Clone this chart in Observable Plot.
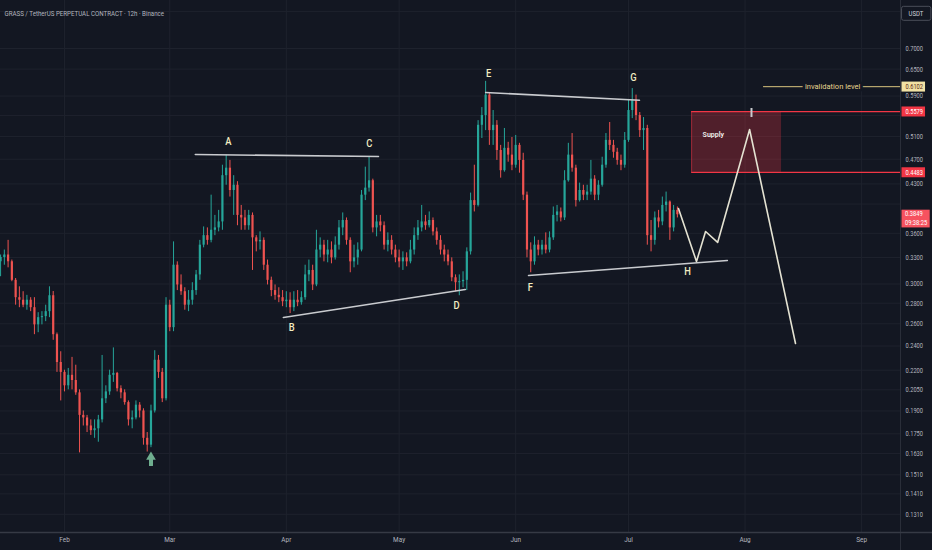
<!DOCTYPE html>
<html>
<head>
<meta charset="utf-8">
<script src="https://cdn.jsdelivr.net/npm/d3@7"></script>
<script src="https://cdn.jsdelivr.net/npm/@observablehq/plot@0.6"></script>
<style>
html, body { margin: 0; padding: 0; background: #131722; }
#chart { width: 932px; height: 550px; overflow: hidden; }
</style>
</head>
<body>
<div id="chart"></div>
<script>
// ---------- DATA ----------
const chartTitle = "GRASS / TetherUS PERPETUAL CONTRACT · 12h · Binance";
const candleStart = "2025-01-15";
const firstOpen = 0.325;
const closes = [
  0.330,0.333,0.325,0.304,0.2856,0.283,0.278,0.283,0.2755,0.259,
  0.2658,0.2668,0.2716,0.2876,0.250,0.2262,0.2183,0.208,0.216,0.212,
  0.2028,0.187,0.1853,0.180,0.177,0.1782,0.184,0.1985,0.2035,0.216,
  0.2175,0.2058,0.2028,0.1958,0.184,0.1853,0.194,0.190,0.1722,0.168,
  0.190,0.228,0.2183,0.1985,0.278,0.2564,0.321,0.299,0.2918,0.278,
  0.283,0.293,0.310,0.345,0.357,0.351,0.364,0.3671,0.3751,0.443,
  0.4551,0.420,0.428,0.384,0.3805,0.370,0.384,0.3542,0.3491,0.351,
  0.321,0.304,0.293,0.288,0.2856,0.2815,0.283,0.2755,0.283,0.2805,
  0.2856,0.310,0.315,0.299,0.339,0.345,0.333,0.339,0.3296,0.345,
  0.3671,0.377,0.351,0.3249,0.3296,0.339,0.413,0.4236,0.435,0.3671,
  0.3751,0.370,0.345,0.351,0.339,0.3296,0.3249,0.3296,0.3249,0.339,
  0.357,0.3671,0.3751,0.370,0.377,0.3619,0.351,0.339,0.333,0.3249,
  0.3068,0.3014,0.3025,0.304,0.3368,0.405,0.398,0.531,0.550,0.592,
  0.521,0.531,0.485,0.451,0.4888,0.477,0.460,0.494,0.468,0.413,
  0.339,0.3249,0.345,0.339,0.345,0.339,0.3542,0.384,0.3888,0.3805,
  0.435,0.477,0.4551,0.405,0.420,0.413,0.4176,0.4375,0.413,0.428,
  0.460,0.503,0.494,0.4819,0.468,0.460,0.503,0.560,0.581,0.550,
  0.521,0.525,0.357,0.351,0.3805,0.3751,0.398,0.4029,0.3671,0.391,
  0.3849
];
const highs = [
  0.333,0.339,0.351,0.327,0.306,0.297,0.2918,0.288,0.2856,0.2856,
  0.2706,0.2716,0.278,0.297,0.292,0.2515,0.2351,0.220,0.2214,0.2304,
  0.224,0.205,0.190,0.187,0.184,0.184,0.187,0.232,0.208,0.220,
  0.2384,0.2183,0.208,0.205,0.197,0.190,0.197,0.1958,0.1915,0.1758,
  0.194,0.236,0.232,0.2214,0.2856,0.283,0.3491,0.3249,0.310,0.296,
  0.293,0.3014,0.315,0.351,0.3684,0.3671,0.413,0.384,0.391,0.460,
  0.477,0.468,0.443,0.4335,0.398,0.391,0.391,0.3874,0.357,0.3619,
  0.3542,0.327,0.3075,0.299,0.296,0.293,0.2918,0.2907,0.2918,0.293,
  0.2918,0.321,0.327,0.321,0.364,0.3542,0.351,0.351,0.3491,0.3555,
  0.377,0.3874,0.3805,0.3542,0.345,0.3479,0.420,0.4568,0.4734,0.4375,
  0.384,0.384,0.3751,0.3606,0.357,0.345,0.339,0.3368,0.3356,0.351,
  0.3671,0.377,0.398,0.384,0.3888,0.3805,0.3671,0.357,0.345,0.339,
  0.3296,0.310,0.310,0.3135,0.3417,0.4161,0.460,0.540,0.566,0.622,
  0.5975,0.560,0.540,0.494,0.525,0.4995,0.5082,0.512,0.4977,0.4802,
  0.4176,0.3479,0.3555,0.351,0.351,0.3606,0.3619,0.3958,0.398,0.3944,
  0.451,0.4977,0.5155,0.460,0.4313,0.428,0.428,0.468,0.443,0.435,
  0.4734,0.5155,0.5364,0.503,0.4888,0.477,0.5174,0.581,0.606,0.592,
  0.556,0.546,0.531,0.377,0.3888,0.391,0.4102,0.4176,0.4045,0.398,
  0.3958
];
const lows = [
  0.308,0.321,0.318,0.3025,0.278,0.2755,0.2755,0.273,0.2716,0.250,
  0.2518,0.259,0.262,0.2658,0.245,0.2183,0.197,0.2035,0.205,0.205,
  0.201,0.1634,0.180,0.1758,0.174,0.1722,0.1698,0.182,0.1951,0.201,
  0.2106,0.2035,0.1985,0.194,0.180,0.1782,0.184,0.1853,0.168,0.1639,
  0.1665,0.1886,0.2136,0.1958,0.197,0.2527,0.2527,0.293,0.288,0.273,
  0.2716,0.278,0.288,0.304,0.3417,0.345,0.3479,0.357,0.3619,0.364,
  0.428,0.4102,0.384,0.370,0.364,0.364,0.364,0.315,0.3368,0.339,
  0.315,0.299,0.2866,0.283,0.2805,0.2765,0.2755,0.2697,0.2716,0.2765,
  0.278,0.283,0.3025,0.293,0.2971,0.3296,0.3249,0.3238,0.3226,0.327,
  0.339,0.357,0.345,0.3124,0.318,0.321,0.3368,0.405,0.4176,0.3606,
  0.3555,0.3619,0.339,0.3368,0.333,0.3238,0.318,0.315,0.3192,0.3226,
  0.333,0.351,0.3619,0.364,0.3671,0.3567,0.345,0.333,0.3249,0.3203,
  0.3025,0.2918,0.2876,0.296,0.293,0.333,0.3888,0.3958,0.5064,0.521,
  0.494,0.494,0.468,0.4391,0.4486,0.465,0.451,0.4551,0.447,0.405,
  0.3296,0.3124,0.321,0.332,0.333,0.3344,0.3356,0.351,0.3751,0.3751,
  0.377,0.4328,0.4486,0.3958,0.4029,0.405,0.405,0.413,0.405,0.405,
  0.4251,0.4551,0.485,0.4717,0.460,0.451,0.4551,0.4995,0.544,0.540,
  0.5082,0.485,0.345,0.3368,0.345,0.3671,0.370,0.3888,0.351,0.3619,
  0.3805
];

const priceTicks = [0.70,0.65,0.59,0.51,0.47,0.43,0.36,0.33,0.30,0.28,0.26,0.24,0.22,0.205,0.19,0.175,0.163,0.151,0.141,0.131];
const extraGrid = [0.80, 0.55, 0.40];
const monthStarts = ["2025-02-01","2025-03-01","2025-04-01","2025-05-01","2025-06-01","2025-07-01","2025-08-01","2025-09-01"];

const lineAC = [["2025-03-07T19:00", 0.478], ["2025-04-25T12:00", 0.4747]];
const lineBD = [["2025-03-31T05:00", 0.266], ["2025-05-18T14:00", 0.2942]];
const lineEG = [["2025-05-24T00:00", 0.5975], ["2025-07-03T22:00", 0.581]];
const lineFH = [["2025-06-04T10:00", 0.3094], ["2025-07-27T07:00", 0.3265]];
const projection = [
  ["2025-07-14T07:00", 0.3937], ["2025-07-19T02:00", 0.3253], ["2025-07-21T12:00", 0.3624],
  ["2025-07-24T17:00", 0.3484], ["2025-08-02T05:00", 0.523], ["2025-08-14T10:00", 0.2422]
];
const pivotNames = ["A","B","C","D","E","F","G","H"];
const pivotDates = ["2025-03-16T14:00","2025-04-02T10:00","2025-04-23T02:00","2025-05-16T07:00","2025-05-24T19:00","2025-06-04T22:00","2025-07-02T07:00","2025-07-16T17:00"];
const pivotPrices = [0.501, 0.2566, 0.4974, 0.2777, 0.6398, 0.2963, 0.6307, 0.3138];

const supplyZone = {start: "2025-07-17T19:00", end: "2025-08-10T17:00", top: 0.5579, bottom: 0.4483};
const supplyLabel = {text: "Supply", date: "2025-07-20T17:00", price: 0.5137};
const invalidation = {price: 0.6102, start: "2025-08-05T22:00", labelDate: "2025-08-24T07:00", text: "invalidation level"};
const targetMark = {date: "2025-08-02T17:00", low: 0.5461, high: 0.5641};
const arrowMark = {date: "2025-02-24T00:00", head: 0.1610, tailLow: 0.1556, tailHigh: 0.1596};

const tagPrices = [0.6102, 0.5579, 0.4483];
const tagKinds = ["invalid", "zone", "zone"];
const lastPrice = 0.3849;
const countdown = "09:38:25";
const currencyLabel = "USDT";

// ---------- STYLE ----------
const C = {
  bg: "#131722", grid: "#1e222d", axisLine: "#2a2e39", text: "#b2b5be",
  up: "#26a69a", down: "#ef5350", pivot: "#c9cbcf", path: "#e4e2d2", letter: "#f3edc2",
  zone: "#f23645", invalid: "#d9c37e"
};
const tagStyle = {invalid: {bg: "#f2e2a4", fg: "#5a2a1a"}, zone: {bg: "#f23645", fg: "#ffffff"}, last: {bg: "#f7525f", fg: "#ffffff"}};

// ---------- BUILD ----------
const day = 864e5;
const t0 = Date.parse(candleStart + "T00:00:00Z");
const candles = closes.map((c, i) => ({
  date: new Date(t0 + i * day), open: i ? closes[i - 1] : firstOpen, high: highs[i], low: lows[i], close: c
}));
const upC = candles.filter(d => d.close >= d.open);
const downC = candles.filter(d => d.close < d.open);
const T = s => new Date(s + (s.length > 10 ? "Z" : "T00:00:00Z"));
const xDomain = [new Date("2025-01-14T23:30:00Z"), new Date("2025-09-11T08:10:00Z")];
const xFar = new Date("2025-09-19T21:00:00Z");
const yDomain = [0.1227, 0.832];
const months = monthStarts.map(T);
const pivots = pivotNames.map((n, i) => ({name: n, date: T(pivotDates[i]), price: pivotPrices[i]}));
const pt = a => a.map(([d, p]) => ({date: T(d), price: p}));
const fmt4 = d3.format(".4f");
const tags = tagPrices.map((p, i) => ({price: p, label: fmt4(p), kind: tagKinds[i]}));
const lastTag = [{price: lastPrice, label: fmt4(lastPrice) + "\n" + countdown, kind: "last"}];
const tagName = name => () => name;   // per-element aria-label used to find texts afterwards

const font = "Roboto, 'Open Sans', sans-serif";

const svg = Plot.plot({
  width: 932, height: 550,
  marginLeft: 0, marginRight: 32, marginTop: 0, marginBottom: 18,
  style: {background: C.bg, fontFamily: font, overflow: "visible"},
  x: {type: "utc", domain: xDomain, axis: null},
  y: {type: "log", domain: yDomain, axis: null},
  marks: [
    Plot.gridY(priceTicks.concat(extraGrid), {stroke: C.grid, strokeOpacity: 1}),
    Plot.gridX(months, {stroke: C.grid, strokeOpacity: 1}),
    // supply zone
    Plot.rect([supplyZone], {x1: d => T(d.start), x2: d => T(d.end), y1: "bottom", y2: "top", fill: C.zone, fillOpacity: 0.28}),
    Plot.ruleY([supplyZone.top, supplyZone.bottom], {x1: T(supplyZone.start), x2: xDomain[1], stroke: C.zone, strokeWidth: 1.2}),
    Plot.ruleX([supplyZone], {x: d => T(d.start), y1: "bottom", y2: "top", stroke: C.zone, strokeOpacity: 0.5}),
    // candles
    Plot.ruleX(upC, {x: "date", y1: "low", y2: "high", stroke: C.up, strokeWidth: 1}),
    Plot.ruleX(downC, {x: "date", y1: "low", y2: "high", stroke: C.down, strokeWidth: 1}),
    Plot.ruleX(upC, {x: "date", y1: "open", y2: "close", stroke: C.up, strokeWidth: 2.2}),
    Plot.ruleX(downC, {x: "date", y1: "open", y2: "close", stroke: C.down, strokeWidth: 2.2}),
    // pattern lines
    ...[lineAC, lineBD, lineEG, lineFH].map(l => Plot.line(pt(l), {x: "date", y: "price", stroke: C.pivot, strokeWidth: 1.6})),
    Plot.line(pt(projection), {x: "date", y: "price", stroke: C.path, strokeWidth: 1.6}),
    Plot.ruleX([targetMark], {x: d => T(d.date), y1: "low", y2: "high", stroke: C.pivot, strokeWidth: 2}),
    // invalidation level
    Plot.ruleY([invalidation.price], {x1: T(invalidation.start), x2: xDomain[1], stroke: C.invalid, strokeWidth: 1}),
    Plot.text([invalidation], {x: d => T(d.labelDate), y: "price", text: "text", fill: "#e8d48f", stroke: C.bg, strokeWidth: 6, fontSize: 7.5, ariaLabel: tagName("invalid-text")}),
    // supply label
    Plot.text([supplyLabel], {x: d => T(d.date), y: "price", text: "text", textAnchor: "start", fill: "#f2f2ee", fontSize: 8, fontWeight: 600, ariaLabel: tagName("supply-text")}),
    // arrow
    Plot.ruleX([arrowMark], {x: d => T(d.date), y1: "tailLow", y2: "tailHigh", stroke: "#6fae8f", strokeWidth: 4}),
    Plot.dot([arrowMark], {x: d => T(d.date), y: "head", symbol: "triangle", r: 3.6, fill: "#6fae8f", stroke: "none"}),
    // pivot letters
    Plot.text(pivots, {x: "date", y: "price", text: "name", fill: C.letter, fontSize: 11, fontWeight: 500, ariaLabel: tagName("letters")}),
    // chrome
    Plot.ruleX([xDomain[1]], {y1: 0.1149, y2: yDomain[1], stroke: C.axisLine, strokeWidth: 1}),
    Plot.ruleY([yDomain[0]], {x1: xDomain[0], x2: xFar, stroke: "#363a45", strokeWidth: 1.5}),
    // price axis
    Plot.text(priceTicks, {y: d => d, text: d => fmt4(d), frameAnchor: "right", dx: 5, textAnchor: "start", fill: C.text, fontSize: 7.5, ariaLabel: tagName("yticks")}),
    // months
    Plot.text(months, {x: d => d, text: d => d3.utcFormat("%b")(d), frameAnchor: "bottom", dy: 9.5, textAnchor: "middle", fill: C.text, fontSize: 8, ariaLabel: tagName("xticks")}),
    // price tags
    Plot.text(tags, {y: "price", text: "label", frameAnchor: "right", dx: 5, textAnchor: "start", fill: d => tagStyle[d.kind].fg, fontSize: 7.5, ariaLabel: tagName("tags")}),
    Plot.text(lastTag, {y: "price", text: "label", frameAnchor: "right", dx: 4.5, dy: 3, textAnchor: "start", lineHeight: 1.25, fill: d => tagStyle[d.kind].fg, fontSize: 7, ariaLabel: tagName("lasttag")}),
    // currency badge
    Plot.text([currencyLabel], {frameAnchor: "top-right", dx: 15.5, dy: 10, textAnchor: "middle", text: d => d, fill: "#d1d4dc", fontSize: 7.5, ariaLabel: tagName("currency")}),
    // title
    Plot.text([chartTitle], {frameAnchor: "top-left", dx: 4, dy: 10, text: d => d, textAnchor: "start", fill: C.text, fontSize: 7.8, ariaLabel: tagName("title")})
  ]
});
document.getElementById("chart").append(svg);

// ---------- TEXT FITTING ----------
const NS = "http://www.w3.org/2000/svg";
const textsOf = label => [...svg.querySelectorAll(`text[aria-label="${label}"]`)];
function squeeze(label, f) {
  textsOf(label).forEach(t => {
    const spans = t.querySelectorAll("tspan");
    (spans.length ? [...spans] : [t]).forEach(e => {
      const L = e.getComputedTextLength();
      if (L > 0) {
        e.setAttribute("textLength", (L * f).toFixed(2));
        e.setAttribute("lengthAdjust", "spacingAndGlyphs");
      }
    });
  });
}
squeeze("title", 0.79);
squeeze("yticks", 0.76);
squeeze("xticks", 0.8);
squeeze("tags", 0.76);
squeeze("lasttag", 0.82);
squeeze("supply-text", 0.88);
squeeze("currency", 0.8);
squeeze("letters", 0.85);

function backdrop(label, kinds, padL, padR, padY, rx, stroke) {
  textsOf(label).forEach((t, i) => {
    const b = t.getBBox();
    const r = document.createElementNS(NS, "rect");
    r.setAttribute("x", b.x - padL);
    r.setAttribute("y", b.y - padY);
    r.setAttribute("width", b.width + padL + padR);
    r.setAttribute("height", b.height + 2 * padY);
    if (rx) r.setAttribute("rx", rx);
    const tr = t.getAttribute("transform");
    if (tr) r.setAttribute("transform", tr);
    if (stroke) { r.setAttribute("fill", C.bg); r.setAttribute("stroke", stroke); }
    else { r.setAttribute("fill", tagStyle[kinds[i]].bg); r.setAttribute("stroke", "none"); }
    t.parentNode.insertBefore(r, t);
  });
}
backdrop("tags", tags.map(d => d.kind), 4, 2, 0.5, 0, null);
backdrop("lasttag", ["last"], 3.5, 2.5, 0.5, 0, null);
backdrop("currency", null, 7, 7, 2.5, 2, "#4a4e59");
</script>
</body>
</html>
